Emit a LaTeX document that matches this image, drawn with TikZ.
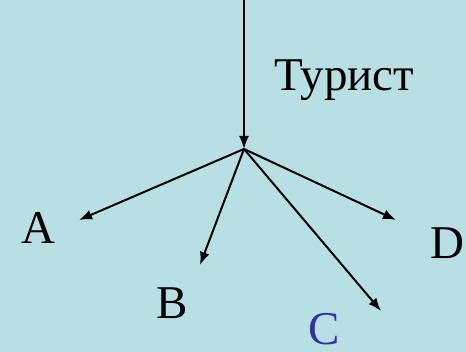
\documentclass[tikz,border=0pt]{standalone}
\usepackage{fontspec}
\setmainfont{Liberation Serif}
\usepackage{tikz}
\usetikzlibrary{arrows.meta, positioning, calc}
\definecolor{slideBg}{RGB}{184,224,228}
\definecolor{darkText}{RGB}{0,0,0}
\definecolor{letterBlue}{RGB}{51,51,160}
\tikzset{
    flow/.style={-{Latex[length=13pt, width=10pt]}, line width=2pt, #1},
    flow/.default=darkText,
    lbl/.style={font=\fontsize{47}{50}\selectfont, inner sep=0pt, text=#1},
    lbl/.default=darkText
}
\begin{document}
\begin{tikzpicture}[x=1pt, y=-1pt]
    \fill[slideBg] (0,0) rectangle (466,352);
    \useasboundingbox (0,0) rectangle (466,352);
    \coordinate (top) at (244,0);
    \coordinate (hub) at (244,149);
    \node[lbl, anchor=west] (tourist) at (274,80) {Турист};
    \foreach \nm/\lab/\col/\lx/\ly/\tx/\ty in {A/A/darkText/38/228/79/220, B/B/darkText/172/303/200/265, C/C/letterBlue/324/329/381/311, D/D/darkText/447/243/396/220} {
        \node[lbl=\col] (\nm) at (\lx,\ly) {\lab};
        \coordinate (tip\nm) at (\tx,\ty);
        \draw[flow] (hub) -- (tip\nm);
    }
    \draw[flow] (top) -- (hub);
\end{tikzpicture}
\end{document}
